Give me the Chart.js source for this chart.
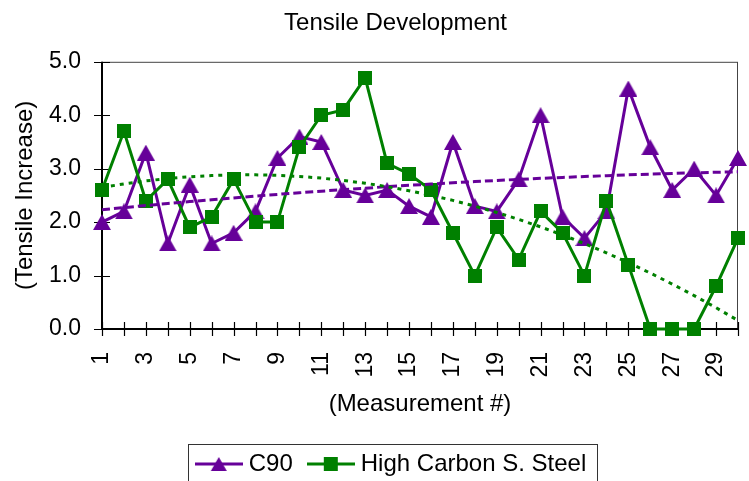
<!DOCTYPE html>
<html>
<head>
<meta charset="utf-8">
<script src="https://cdn.jsdelivr.net/npm/chart.js@4/dist/chart.umd.min.js"></script>
<style>
  html, body { margin: 0; padding: 0; background: #ffffff; }
  #wrap { width: 749px; height: 481px; }
</style>
</head>
<body>
<div id="wrap"><canvas id="c" width="749" height="481"></canvas></div>
<script>
// ---------------- DATA ----------------
const categories = ['1','2','3','4','5','6','7','8','9','10','11','12','13','14','15',
                    '16','17','18','19','20','21','22','23','24','25','26','27','28','29','30'];
const c90Values = [2.0, 2.2, 3.3, 1.6, 2.7, 1.6, 1.8, 2.2, 3.2, 3.6,
                   3.5, 2.6, 2.5, 2.6, 2.3, 2.1, 3.5, 2.3, 2.2, 2.8,
                   4.0, 2.1, 1.7, 2.2, 4.5, 3.4, 2.6, 3.0, 2.5, 3.2];
const steelValues = [2.6, 3.7, 2.4, 2.8, 1.9, 2.1, 2.8, 2.0, 2.0, 3.4,
                     4.0, 4.1, 4.7, 3.1, 2.9, 2.6, 1.8, 1.0, 1.9, 1.3,
                     2.2, 1.8, 1.0, 2.4, 1.2, 0.0, 0.0, 0.0, 0.8, 1.7];
const xTickLabels = ['1','3','5','7','9','11','13','15','17','19','21','23','25','27','29'];
const yTickLabels = ['0.0','1.0','2.0','3.0','4.0','5.0'];
const seriesNames = ['C90', 'High Carbon S. Steel'];

// ---------------- STYLE ----------------
const PURPLE = '#660099';
const GREEN = '#008000';
const FONT = '"Liberation Sans", Arial, Helvetica, sans-serif';

// Trendlines: least-squares polynomial (order 2) fitted to the series values
function polyFit(ys, degree) {
  const n = degree + 1;
  const A = Array.from({length: n}, () => new Array(n + 1).fill(0));
  ys.forEach((y, i) => {
    const x = i + 1;
    for (let r = 0; r < n; r++) {
      for (let c = 0; c < n; c++) A[r][c] += Math.pow(x, r + c);
      A[r][n] += y * Math.pow(x, r);
    }
  });
  for (let p = 0; p < n; p++) {
    let best = p;
    for (let r = p + 1; r < n; r++) if (Math.abs(A[r][p]) > Math.abs(A[best][p])) best = r;
    [A[p], A[best]] = [A[best], A[p]];
    for (let r = 0; r < n; r++) {
      if (r === p) continue;
      const f = A[r][p] / A[p][p];
      for (let c = p; c <= n; c++) A[r][c] -= f * A[p][c];
    }
  }
  const coef = A.map((row, i) => row[n] / row[i]);
  return ys.map((_, i) => coef.reduce((s, c, k) => s + c * Math.pow(i + 1, k), 0));
}
const c90Trend = polyFit(c90Values, 2);
const steelTrend = polyFit(steelValues, 2);

// Marker images (centred on their bounding box, like the spreadsheet markers)
function makeTriangle(color, w, h) {
  const c = document.createElement('canvas');
  c.width = w; c.height = h;
  const g = c.getContext('2d');
  g.fillStyle = color;
  g.beginPath(); g.moveTo(w / 2, 0); g.lineTo(w, h); g.lineTo(0, h); g.closePath(); g.fill();
  return c;
}
function makeSquare(color, s) {
  const c = document.createElement('canvas');
  c.width = s; c.height = s;
  const g = c.getContext('2d');
  g.fillStyle = color; g.fillRect(0, 0, s, s);
  return c;
}
function makeLegendIcon(color, marker) {
  const c = document.createElement('canvas');
  c.width = 48; c.height = 20;
  const g = c.getContext('2d');
  g.strokeStyle = color; g.lineWidth = 3;
  g.beginPath(); g.moveTo(0, 10); g.lineTo(48, 10); g.stroke();
  g.drawImage(marker, 24 - marker.width / 2, 10 - marker.height / 2);
  return c;
}
const triMarker = makeTriangle(PURPLE, 18, 16);
const sqMarker = makeSquare(GREEN, 14);
const legendTri = makeLegendIcon(PURPLE, makeTriangle(PURPLE, 16, 14));
const legendSq = makeLegendIcon(GREEN, makeSquare(GREEN, 14));

// Plot frame, axes and cross tick marks
const framePlugin = {
  id: 'frame',
  afterLayout(chart) {
    chart.titleBlock.left += 25; chart.titleBlock.right += 25;
    chart.legend.left += 23; chart.legend.right += 23;
  },
  beforeDatasetsDraw(chart) {
    const {ctx, chartArea: a, scales: {x, y}} = chart;
    ctx.save();
    ctx.strokeStyle = '#444'; ctx.lineWidth = 1;
    ctx.strokeRect(a.left, a.top + 0.5, a.right - a.left - 0.5, a.bottom - a.top);
    ctx.strokeStyle = '#000'; ctx.lineWidth = 2;
    ctx.beginPath();
    ctx.moveTo(a.left, a.top); ctx.lineTo(a.left, a.bottom);
    ctx.moveTo(a.left - 1, a.bottom); ctx.lineTo(a.right, a.bottom);
    ctx.stroke();
    ctx.lineWidth = 1.2;
    ctx.beginPath();
    for (let i = 0; i < yTickLabels.length; i++) {
      const py = Math.round(y.getPixelForValue(i)) + 0.5;
      ctx.moveTo(a.left - 8, py); ctx.lineTo(a.left + 8, py);
    }
    for (let i = 0; i < categories.length; i++) {
      const px = Math.round(x.getPixelForValue(i)) + 0.5;
      ctx.moveTo(px, a.bottom - 7); ctx.lineTo(px, a.bottom + 7);
    }
    ctx.stroke();
    ctx.restore();
  },
  afterDraw(chart) {
    const lg = chart.legend;
    const hb = lg.legendHitBoxes;
    if (!hb || !hb.length) return;
    const ctx = chart.ctx;
    const first = hb[0], last = hb[hb.length - 1];
    const left = first.left - 13;
    const right = last.left + last.width + 11;
    ctx.save();
    ctx.strokeStyle = '#333'; ctx.lineWidth = 1;
    ctx.strokeRect(Math.round(left) + 0.5, 444.5, Math.round(right - left), 60);
    ctx.restore();
  }
};

new Chart(document.getElementById('c'), {
  type: 'line',
  data: {
    labels: categories,
    datasets: [
      { label: seriesNames[0], data: c90Values, borderColor: PURPLE, backgroundColor: PURPLE,
        borderWidth: 3, pointStyle: triMarker, pointRadius: 8, pointHoverRadius: 8,
        tension: 0, clip: false, order: 3 },
      { label: seriesNames[1], data: steelValues, borderColor: GREEN, backgroundColor: GREEN,
        borderWidth: 3, pointStyle: sqMarker, pointRadius: 8, pointHoverRadius: 8,
        tension: 0, clip: false, order: 2 },
      { label: 'C90 trend', data: c90Trend, borderColor: PURPLE, borderWidth: 3,
        borderDash: [8, 4], pointRadius: 0, tension: 0, clip: false, order: 1 },
      { label: 'Steel trend', data: steelTrend, borderColor: GREEN, borderWidth: 3,
        borderDash: [4, 5], pointRadius: 0, tension: 0, clip: false, order: 0 }
    ]
  },
  options: {
    responsive: false,
    animation: false,
    devicePixelRatio: 1,
    layout: { padding: { left: 0, right: 8, top: 0, bottom: -5 } },
    plugins: {
      tooltip: { enabled: false },
      title: {
        display: true, text: 'Tensile Development', color: '#000',
        font: { family: FONT, size: 24, weight: 'normal' },
        padding: { top: 9, bottom: 24 }
      },
      legend: {
        display: true, position: 'bottom',
        labels: {
          color: '#000', font: { family: FONT, size: 24 },
          usePointStyle: true, pointStyleWidth: 36, padding: 20,
          generateLabels: () => [
            { text: seriesNames[0], pointStyle: legendTri, fillStyle: PURPLE, strokeStyle: PURPLE, lineWidth: 0, datasetIndex: 0, hidden: false, fontColor: '#000' },
            { text: seriesNames[1], pointStyle: legendSq, fillStyle: GREEN, strokeStyle: GREEN, lineWidth: 0, datasetIndex: 1, hidden: false, fontColor: '#000' }
          ]
        }
      }
    },
    scales: {
      x: {
        type: 'category', offset: false,
        grid: { display: false, drawTicks: false }, border: { display: false },
        ticks: {
          autoSkip: false, minRotation: 90, maxRotation: 90, padding: 23, color: '#000',
          font: { family: FONT, size: 23 },
          callback: (v, i) => (i % 2 === 0 ? xTickLabels[i / 2] : '')
        },
        title: { display: true, text: '(Measurement #)', color: '#000',
                 font: { family: FONT, size: 24 }, padding: { top: 12, bottom: 13 } },
        afterFit: (s) => { s.paddingRight = 0; s.paddingLeft = 0; s.height = 103; }
      },
      y: {
        min: 0, max: 5,
        grid: { display: false, drawTicks: false }, border: { display: false },
        ticks: { stepSize: 1, padding: 21, color: '#000', font: { family: FONT, size: 23 },
                 callback: (v, i) => yTickLabels[i] },
        title: { display: true, text: '(Tensile Increase)', color: '#000',
                 font: { family: FONT, size: 24 }, padding: { top: 11, bottom: 8 } },
        afterFit: (s) => { s.width = 102; }
      }
    }
  },
  plugins: [framePlugin]
});
</script>
</body>
</html>
